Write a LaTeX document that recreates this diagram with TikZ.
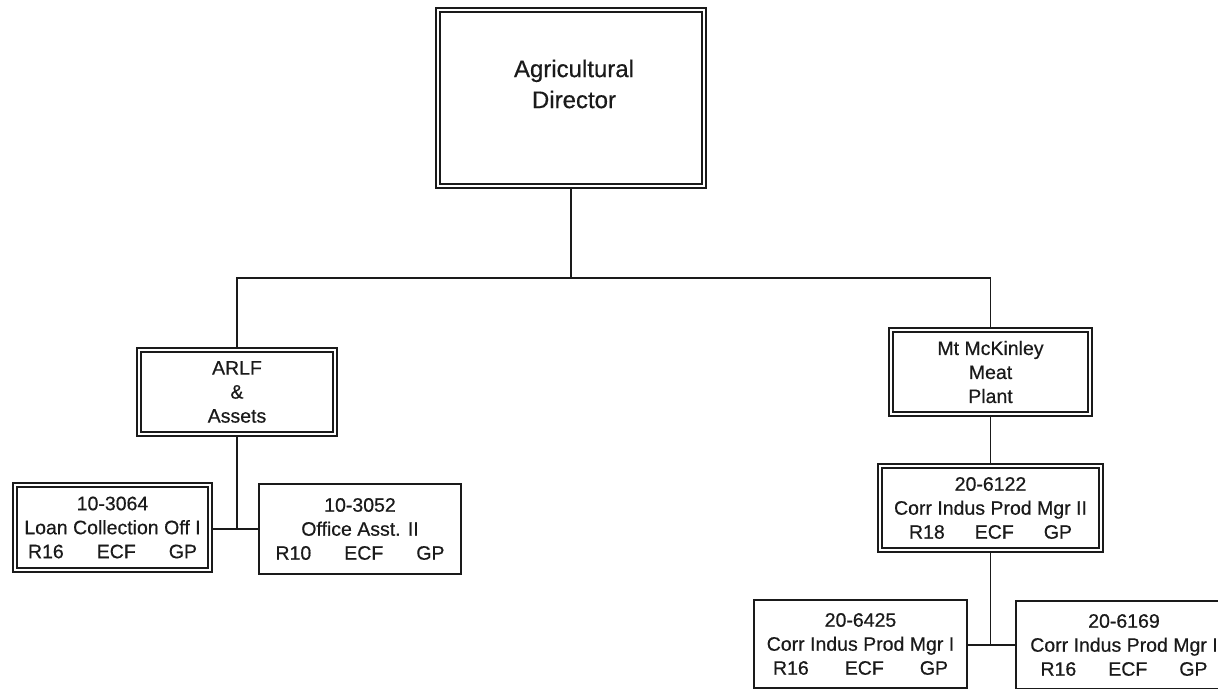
\documentclass[tikz,border=0pt]{standalone}
\usepackage{fontspec}
\setmainfont[FakeBold=0.5]{Liberation Sans}
\usetikzlibrary{backgrounds}
\definecolor{ink}{HTML}{1A1A1A}
\newcommand{\rowtxt}[4]{\makebox[#1pt]{#2\hfill #3\hfill #4}}
\begin{document}
\begin{tikzpicture}[x=1pt,y=-1pt,
  every node/.style={text=ink},
  boxtxt/.style={align=center, inner sep=0pt, font=\fontsize{19.5}{24}\selectfont},
  dblbox/.style={boxtxt, draw=ink, double=white, double distance=2.8pt, line width=1.5pt, fill=white},
  sglbox/.style={boxtxt, draw=ink, line width=1.8pt, fill=white},
  link/.style={draw=ink, line width=1.8pt}
]
\clip (0,0) rectangle (1218,688);

% top
\node[dblbox, minimum width=266pt, minimum height=176pt,
  label={[font=\fontsize{24}{31}\selectfont, align=center, text=ink, xshift=3pt, yshift=14pt]center:Agricultural\\Director}]
  (dir) at (571,98) {};

% second level
\node[dblbox, minimum width=196pt, minimum height=84pt] (arlf) at (237,392) {ARLF\\\&\\Assets};
\node[dblbox, minimum width=199pt, minimum height=84pt] (mt) at (990.5,372) {Mt McKinley\\Meat\\Plant};

% left children
\node[dblbox, minimum width=195pt, minimum height=85pt] (l1) at (112.5,527.5)
  {10-3064\\Loan Collection Off I\\\rowtxt{169}{R16}{ECF}{GP}};
\node[sglbox, minimum width=202pt, minimum height=90pt] (l2) at (360,529)
  {10-3052\\Office Asst. II\\\rowtxt{169}{R10}{ECF}{GP}};

% right chain
\node[dblbox, minimum width=221pt, minimum height=84pt] (m2) at (990.5,508)
  {20-6122\\Corr Indus Prod Mgr II\\\rowtxt{163}{R18}{ECF}{GP}};
\node[sglbox, minimum width=213pt, minimum height=88pt] (c1) at (860.5,644)
  {20-6425\\Corr Indus Prod Mgr I\\\rowtxt{175}{R16}{ECF}{GP}};
\node[sglbox, minimum width=216pt, minimum height=88pt] (c2) at (1124,645)
  {20-6169\\Corr Indus Prod Mgr I\\\rowtxt{167}{R16}{ECF}{GP}};

\coordinate (bus) at (0,278);
\coordinate (j2) at (0,529);
\coordinate (j3) at (0,645);

\begin{scope}[on background layer]
  \draw[link] (dir.south) -- (dir.south |- bus);
  \draw[link] (arlf.north) |- (mt.north |- bus) -- (mt.north);
  \draw[link] (arlf.south) -- (arlf.south |- j2);
  \draw[link] (l1.east |- j2) -- (l2.west |- j2);
  \draw[link] (mt.south) -- (m2.north);
  \draw[link] (m2.south) -- (m2.south |- j3);
  \draw[link] (c1.east |- j3) -- (c2.west |- j3);
\end{scope}
\end{tikzpicture}
\end{document}
